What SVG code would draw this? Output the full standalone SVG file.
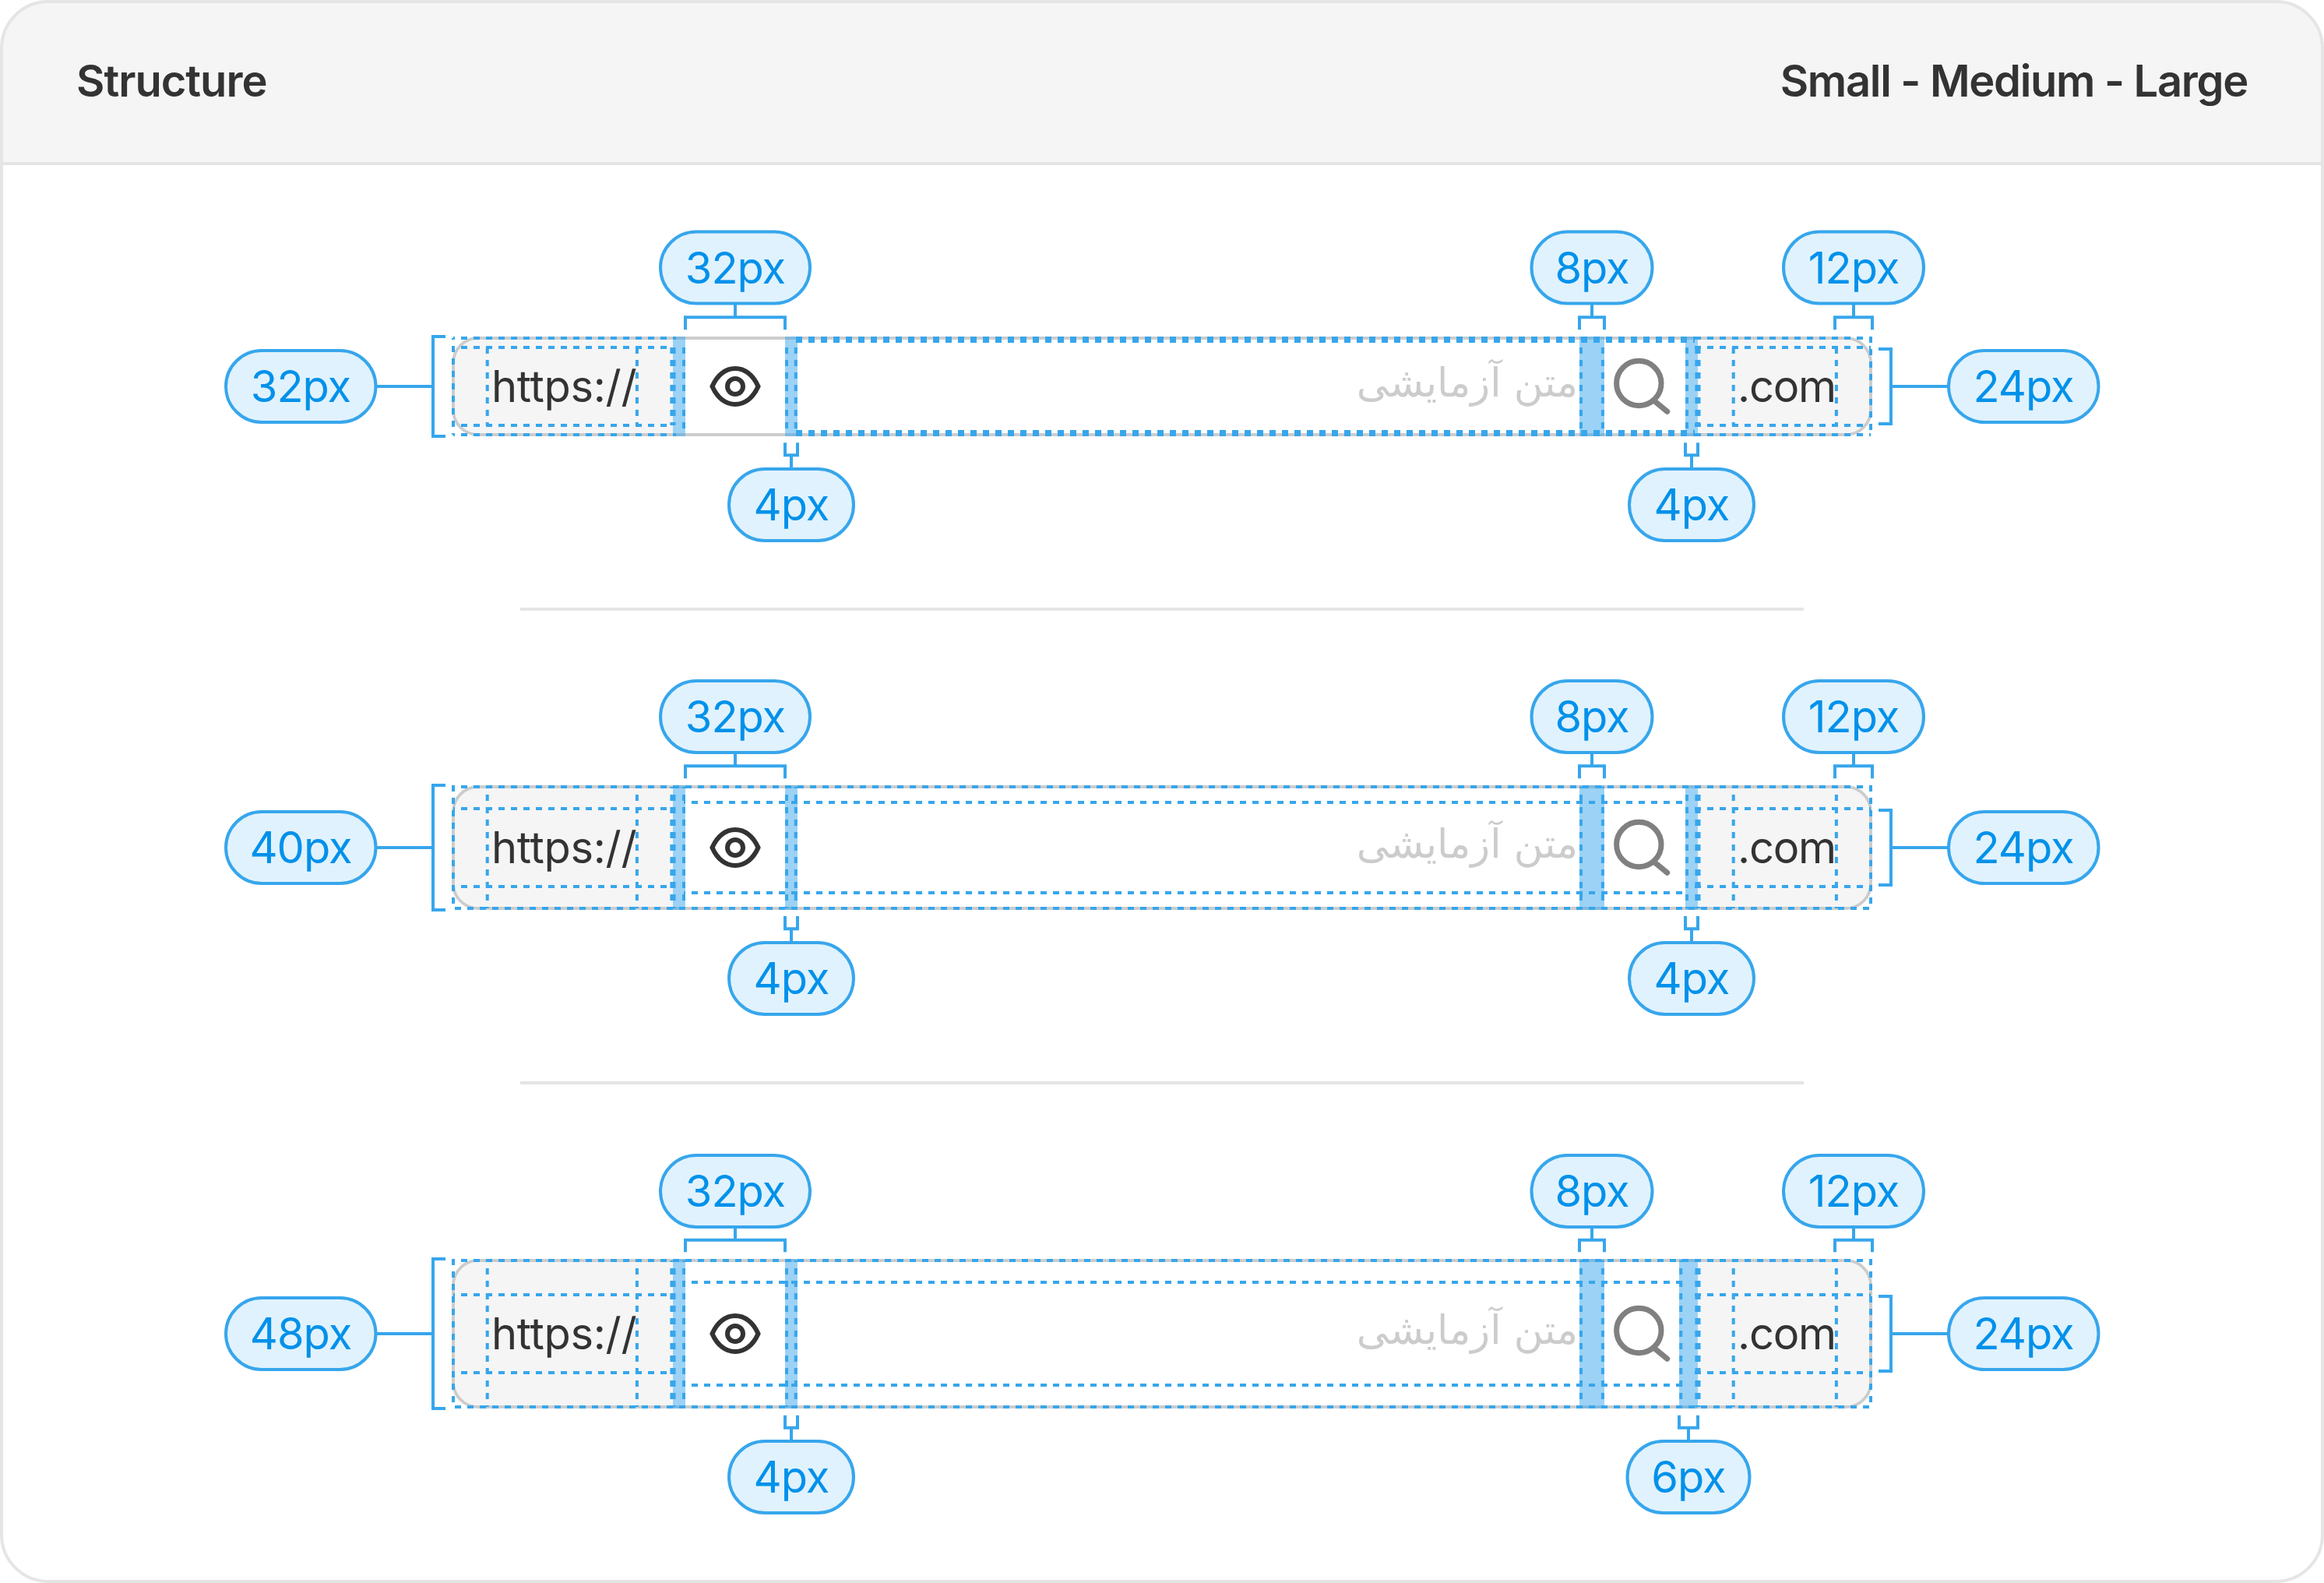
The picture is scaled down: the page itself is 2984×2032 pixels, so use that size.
<svg xmlns="http://www.w3.org/2000/svg" width="2984" height="2032" viewBox="0 0 2984 2032">
<style>
text{font-family:Inter,"Liberation Sans",sans-serif}
.title{font-size:56px;font-weight:600;fill:#333;letter-spacing:-1px}
.pill rect{fill:#E0F2FD;stroke:#37A6EC;stroke-width:4}
.pill text{font-size:56px;fill:#0091EA;text-anchor:middle;font-weight:400;letter-spacing:-1px}
.conn{fill:none;stroke:#37A6EC;stroke-width:4}
.sep{stroke:#E5E5E5;stroke-width:4}
.field{fill:#fff;stroke:#CCC;stroke-width:4}
.seg{fill:#F5F5F5}
.gap{fill:#37A6EC;opacity:.5}
.dash{fill:none;stroke:#37A6EC;stroke-width:4;stroke-dasharray:8 8;stroke-dashoffset:6}
.dash0{fill:none;stroke:#37A6EC;stroke-width:4;stroke-dasharray:8 8}
.val{font-size:56px;fill:#333;font-weight:400;letter-spacing:-.3px}
.dom{letter-spacing:-1.2px}
.ph{font-family:"DejaVu Sans",sans-serif;font-size:51.5px;fill:#CCC;text-anchor:middle}
.eye{fill:none;stroke:#333;stroke-width:6}
.mag{fill:none;stroke:#808080;stroke-width:7;stroke-linecap:round}
</style>
<defs>
<g id="eye-icon"><path class="eye" d="M-29.500 0C-23-15-12-23 0-23S23-15 29.500 0C23 15 12 23 0 23S-23 15-29.500 0Z"/><circle class="eye" r="10"/></g>
<g id="search-icon"><circle class="mag" r="28.700"/><path class="mag" d="M20.300 23 36.400 36.300"/></g>
</defs>
<g id="frame">
<rect x="2" y="2" width="2980" height="2028" rx="60" fill="#fff"/>
<path d="M2 210V62A60 60 0 0 1 62 2H2922A60 60 0 0 1 2982 62V210Z" fill="#F5F5F5"/>
<path class="sep" d="M0 210H2984" fill="none"/>
<rect x="2" y="2" width="2980" height="2028" rx="60" fill="none" stroke="#E5E5E5" stroke-width="4"/>
<text class="title" x="98" y="124">Structure</text>
<text class="title" x="2886" y="124" text-anchor="end" style="letter-spacing:-1.3px">Small - Medium - Large</text>
<line class="sep" x1="668" y1="782" x2="2316" y2="782"/>
<line class="sep" x1="668" y1="1390" x2="2316" y2="1390"/>
</g>

<g id="row-small">
<rect class="field" x="582" y="434" width="1820" height="124" rx="32"/>
<path class="seg" d="M864 436H614A30 30 0 0 0 584 466V526A30 30 0 0 0 614 556H864Z"/>
<path class="seg" d="M2180 436H2370A30 30 0 0 1 2400 466V526A30 30 0 0 1 2370 556H2180Z"/>
<rect class="gap" x="864" y="432" width="16" height="128"/>
<rect class="gap" x="1008" y="432" width="16" height="128"/>
<rect class="gap" x="2028" y="432" width="32" height="128"/>
<rect class="gap" x="2164" y="432" width="16" height="128"/>
<path class="dash" d="M582 434H868M582 558H868M582 434V558"/>
<path class="dash0" d="M2176 434H2402V558M2176 558H2402"/>
<path class="dash0" d="M1022 434H2176M1022 438H2176M1022 554H2176M1022 558H2176"/>
<path class="dash" d="M582 446H860M582 546H860"/>
<path class="dash0" d="M2176 446H2402M2176 546H2402M625.700 446V546M817.900 446V546M862.400 446V546M865.500 446V546M878 446V558M1010 446V558M1021.800 446V558M2030 446V558M2057.900 446V558M2166 446V558M2178.400 446V546M2181.500 446V546M2225.700 446V546M2357.900 446V546"/>
<text class="val" x="631" y="516">https://</text>
<use href="#eye-icon" x="944" y="496"/>
<text class="ph" x="1884" y="509" direction="rtl">متن آزمایشی</text>
<use href="#search-icon" x="2104.300" y="492"/>
<text class="val dom" x="2231" y="516">.com</text>
</g>

<g id="row-medium">
<rect class="field" x="582" y="1010" width="1820" height="156" rx="32"/>
<path class="seg" d="M864 1012H614A30 30 0 0 0 584 1042V1134A30 30 0 0 0 614 1164H864Z"/>
<path class="seg" d="M2180 1012H2370A30 30 0 0 1 2400 1042V1134A30 30 0 0 1 2370 1164H2180Z"/>
<rect class="gap" x="864" y="1008" width="16" height="160"/>
<rect class="gap" x="1008" y="1008" width="16" height="160"/>
<rect class="gap" x="2028" y="1008" width="32" height="160"/>
<rect class="gap" x="2164" y="1008" width="16" height="160"/>
<rect class="dash" x="582" y="1010" width="1820" height="156"/>
<path class="dash" d="M582 1038H860M582 1138H860M878 1030H2168M878 1146H2168M625.700 1010V1166M817.900 1010V1166M862.400 1010V1166M865.500 1010V1166M878 1010V1166M1010 1010V1166M1021.800 1010V1166M2030 1010V1166M2057.900 1010V1166M2166 1010V1166M2178.400 1010V1166M2181.500 1010V1166M2225.700 1010V1166M2357.900 1010V1166"/>
<path class="dash0" d="M2176 1038H2402M2176 1138H2402"/>
<text class="val" x="631" y="1108">https://</text>
<use href="#eye-icon" x="944" y="1088"/>
<text class="ph" x="1884" y="1101" direction="rtl">متن آزمایشی</text>
<use href="#search-icon" x="2104.300" y="1084"/>
<text class="val dom" x="2231" y="1108">.com</text>
</g>

<g id="row-large">
<rect class="field" x="582" y="1618" width="1820" height="188" rx="32"/>
<path class="seg" d="M864 1620H614A30 30 0 0 0 584 1650V1774A30 30 0 0 0 614 1804H864Z"/>
<path class="seg" d="M2180 1620H2370A30 30 0 0 1 2400 1650V1774A30 30 0 0 1 2370 1804H2180Z"/>
<rect class="gap" x="864" y="1616" width="16" height="192"/>
<rect class="gap" x="1008" y="1616" width="16" height="192"/>
<rect class="gap" x="2028" y="1616" width="32" height="192"/>
<rect class="gap" x="2156" y="1616" width="24" height="192"/>
<rect class="dash" x="582" y="1618" width="1820" height="188"/>
<path class="dash" d="M582 1662H860M582 1762H860M878 1646H2168M878 1778H2168M625.700 1618V1806M817.900 1618V1806M862.400 1618V1806M865.500 1618V1806M878 1618V1806M1010 1618V1806M1021.800 1618V1806M2030 1618V1806M2057.900 1618V1806M2158.200 1618V1806M2178.400 1618V1806M2181.500 1618V1806M2225.700 1618V1806M2357.900 1618V1806"/>
<path class="dash0" d="M2176 1662H2402M2176 1762H2402"/>
<text class="val" x="631" y="1732">https://</text>
<use href="#eye-icon" x="944" y="1712"/>
<text class="ph" x="1884" y="1725" direction="rtl">متن آزمایشی</text>
<use href="#search-icon" x="2104.300" y="1708"/>
<text class="val dom" x="2231" y="1732">.com</text>
</g>

<g id="connectors">
<path class="conn" d="M880 423.300V407.300H1008V423.300M944 407.300V390M2028 423.300V407.300H2060V423.300M2044 407.300V390M2356 423.300V407.300H2404V423.300M2380 407.300V390M1008 568.300V584.300H1024V568.300M1016 584.300V602M2164 568.300V584.300H2180V568.300M2172 584.300V602M572 432H556V560H572M483 496H556M2412 448H2428V544H2412M2428 496H2503"/>
<path class="conn" d="M880 999.300V983.300H1008V999.300M944 983.300V966M2028 999.300V983.300H2060V999.300M2044 983.300V966M2356 999.300V983.300H2404V999.300M2380 983.300V966M1008 1176V1192.300H1024V1176M1016 1192.300V1210M2164 1176V1192.300H2180V1176M2172 1192.300V1210M572 1008H556V1168H572M483 1088H556M2412 1040H2428V1136H2412M2428 1088H2503"/>
<path class="conn" d="M880 1607.300V1591.700H1008V1607.300M944 1591.700V1575M2028 1607.300V1591.700H2060V1607.300M2044 1591.700V1575M2356 1607.300V1591.700H2404V1607.300M2380 1591.700V1575M1008 1816.700V1832.700H1024V1816.700M1016 1832.700V1850M2156 1816.700V1832.700H2180V1816.700M2168 1832.700V1850M572 1616H556V1808H572M483 1712H556M2412 1664H2428V1760H2412M2428 1712H2503"/>
</g>

<g id="pill-s-32h" class="pill"><rect x="848" y="297.500" width="192" height="92" rx="46"/><text x="944" y="363.500">32px</text></g>
<g id="pill-s-8" class="pill"><rect x="1966.500" y="297.500" width="155" height="92" rx="46"/><text x="2044" y="363.500">8px</text></g>
<g id="pill-s-12" class="pill"><rect x="2290" y="297.500" width="180" height="92" rx="46"/><text x="2380" y="363.500">12px</text></g>
<g id="pill-s-32v" class="pill"><rect x="290" y="450" width="192.500" height="92" rx="46"/><text x="386" y="515.500">32px</text></g>
<g id="pill-s-24" class="pill"><rect x="2502" y="450" width="192.500" height="92" rx="46"/><text x="2598" y="515.500">24px</text></g>
<g id="pill-s-4a" class="pill"><rect x="936" y="602" width="160" height="92" rx="46"/><text x="1016" y="667.500">4px</text></g>
<g id="pill-s-4b" class="pill"><rect x="2092" y="602" width="160" height="92" rx="46"/><text x="2172" y="667.500">4px</text></g>

<g id="pill-m-32h" class="pill"><rect x="848" y="874" width="192" height="92" rx="46"/><text x="944" y="940">32px</text></g>
<g id="pill-m-8" class="pill"><rect x="1966.500" y="874" width="155" height="92" rx="46"/><text x="2044" y="940">8px</text></g>
<g id="pill-m-12" class="pill"><rect x="2290" y="874" width="180" height="92" rx="46"/><text x="2380" y="940">12px</text></g>
<g id="pill-m-40" class="pill"><rect x="290" y="1042" width="192.500" height="92" rx="46"/><text x="386" y="1107.500">40px</text></g>
<g id="pill-m-24" class="pill"><rect x="2502" y="1042" width="192.500" height="92" rx="46"/><text x="2598" y="1107.500">24px</text></g>
<g id="pill-m-4a" class="pill"><rect x="936" y="1210" width="160" height="92" rx="46"/><text x="1016" y="1275.500">4px</text></g>
<g id="pill-m-4b" class="pill"><rect x="2092" y="1210" width="160" height="92" rx="46"/><text x="2172" y="1275.500">4px</text></g>

<g id="pill-l-32h" class="pill"><rect x="848" y="1483" width="192" height="92" rx="46"/><text x="944" y="1549">32px</text></g>
<g id="pill-l-8" class="pill"><rect x="1966.500" y="1483" width="155" height="92" rx="46"/><text x="2044" y="1549">8px</text></g>
<g id="pill-l-12" class="pill"><rect x="2290" y="1483" width="180" height="92" rx="46"/><text x="2380" y="1549">12px</text></g>
<g id="pill-l-48" class="pill"><rect x="290" y="1666" width="192.500" height="92" rx="46"/><text x="386" y="1732">48px</text></g>
<g id="pill-l-24" class="pill"><rect x="2502" y="1666" width="192.500" height="92" rx="46"/><text x="2598" y="1732">24px</text></g>
<g id="pill-l-4" class="pill"><rect x="936" y="1850" width="160" height="92" rx="46"/><text x="1016" y="1916">4px</text></g>
<g id="pill-l-6" class="pill"><rect x="2089.500" y="1850" width="157" height="92" rx="46"/><text x="2168" y="1916">6px</text></g>
</svg>
